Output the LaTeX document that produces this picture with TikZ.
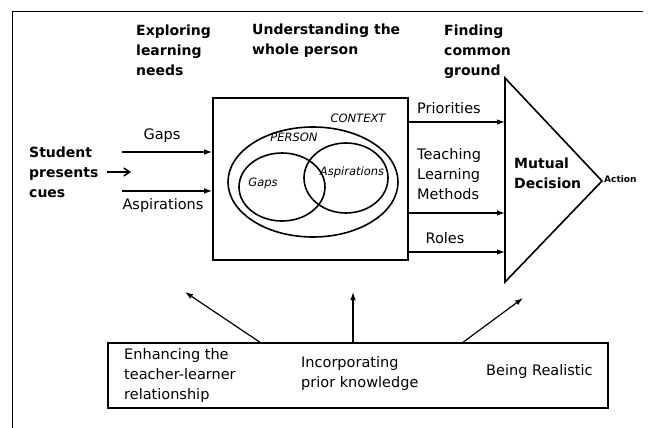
\documentclass[tikz,border=0pt]{standalone}
\usepackage{fontspec}
\setmainfont{DejaVu Sans}
\usetikzlibrary{arrows.meta}
\begin{document}
\begin{tikzpicture}[x=1pt,y=-1pt,
    txt/.style={font=\fontsize{14.5}{20}\selectfont, align=left, inner sep=0pt, anchor=west},
    head/.style={font=\bfseries\fontsize{14}{20}\selectfont, align=left, inner sep=0pt, anchor=west},
    inlbl/.style={font=\itshape\fontsize{11.5}{14}\selectfont, inner sep=0pt},
    arr/.style={line width=1.2pt, -{Latex[length=8pt,width=5.5pt]}},
    frame/.style={line width=1.6pt}]
  \useasboundingbox (0,0) rectangle (648,428);

  % outer frame (only top and left edge)
  \draw[line width=1pt] (643,12) -- (12,12) -- (12,428);

  % column headings
  \node[head] (explore) at (136,50) {Exploring\\learning\\needs};
  \node[head] (whole) at (252,41) {Understanding the\\whole person};
  \node[head] (common) at (444,52) {Finding\\common\\ground};

  % student side
  \node[head] (student) at (29,172) {Student\\presents\\cues};
  \coordinate (cue) at (107,172);
  \draw[line width=1.4pt, -{Straight Barb[length=6pt,width=8pt]}] (cue) -- ++(24,0);

  \coordinate (gapsin) at (122,152);
  \coordinate (aspin) at (122,191);
  \node[txt, anchor=center] (gapslbl) at (162,136) {Gaps};
  \node[txt, anchor=center] (asplbl) at (163,205) {Aspirations};

  % context box with the person inside
  \node[draw, frame, minimum width=195pt, minimum height=162pt, inner sep=0pt] (context) at (310.5,179) {};
  \draw[arr] (gapsin) -- (gapsin -| context.west);
  \draw[arr] (aspin) -- (aspin -| context.west);

  \draw[frame] (313,182) ellipse [x radius=85, y radius=55];
  \draw[frame] (282,187) ellipse [x radius=43, y radius=34];
  \draw[frame] (346,178) ellipse [x radius=42, y radius=35];
  \node[inlbl] (ctxlbl) at (358,118) {CONTEXT};
  \node[inlbl] (perslbl) at (294,137) {PERSON};
  \node[inlbl] (gapsinner) at (263,183) {Gaps};
  \node[inlbl] (aspinner) at (352,172) {Aspirations};

  % mutual decision
  \coordinate (dtop) at (505,78);
  \coordinate (dbot) at (505,282);
  \coordinate (dtip) at (602,181);
  \draw[frame, line join=miter] (dtop) -- (dtip) -- (dbot) -- cycle;
  \node[head] (decision) at (514,173) {Mutual\\Decision};
  \node[font=\bfseries\fontsize{9}{10}\selectfont, inner sep=0pt, anchor=west] (action) at (604,179) {Action};

  \coordinate (prio) at (505,122);
  \coordinate (teach) at (505,213);
  \coordinate (roles) at (505,252);
  \draw[arr] (context.east |- prio) -- (prio);
  \draw[arr] (context.east |- teach) -- (teach);
  \draw[arr] (context.east |- roles) -- (roles);
  \node[txt] (priolbl) at (417,108) {Priorities};
  \node[txt] (teachlbl) at (417,174) {Teaching\\Learning\\Methods};
  \node[txt, anchor=center] (roleslbl) at (445,238) {Roles};

  % bottom box
  \node[draw, line width=1.4pt, minimum width=500pt, minimum height=65pt, inner sep=0pt] (realbox) at (358,375.5) {};
  \node[txt] (enhance) at (124,375) {Enhancing the\\teacher-learner\\relationship};
  \node[txt] (prior) at (301,373) {Incorporating\\prior knowledge};
  \node[txt] (realistic) at (486,371) {Being Realistic};

  \coordinate (uptip1) at (185,292);
  \coordinate (uptip2) at (353,292);
  \coordinate (uptip3) at (523,298);
  \draw[arr] (260,0 |- realbox.north) -- (uptip1);
  \draw[arr] (uptip2 |- realbox.north) -- (uptip2);
  \draw[arr] (463,0 |- realbox.north) -- (uptip3);
\end{tikzpicture}
\end{document}
